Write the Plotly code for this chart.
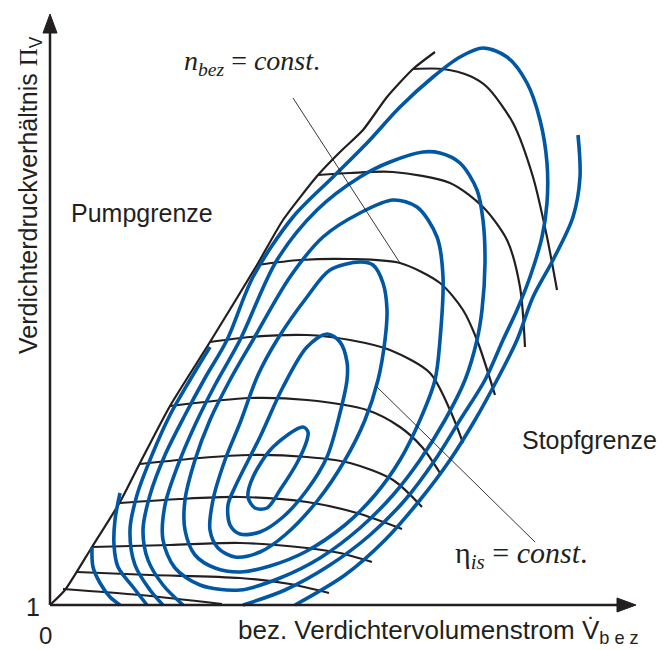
import plotly.graph_objects as go

# ---- data (pixel-space schematic coordinates) ----
surge_x = [50, 65, 92, 120, 140, 170, 210, 257, 283, 318, 340, 363, 387, 413, 435]
surge_y = [605, 590, 547, 502, 463, 406, 342, 265, 220, 175, 152, 130, 97, 69, 52]

speed_lines = {
    "S1": ([63, 140, 222], [589, 595, 604]),
    "S2": ([77, 150, 240, 290, 329], [572, 575, 578, 584, 593]),
    "S3": ([92, 170, 240, 307, 340, 372], [547, 545, 543, 548, 553, 562]),
    "S4": ([120, 180, 240, 307, 357, 402], [503, 499, 497, 502, 513, 529]),
    "S5": ([140, 200, 250, 307, 350, 393, 422], [464, 458, 455, 457, 463, 480, 507]),
    "S6": ([170, 250, 307, 367, 400, 422, 440], [406, 398, 400, 410, 427, 447, 473]),
    "S7": ([210, 250, 307, 350, 390, 430, 450, 463], [342, 337, 335, 340, 350, 373, 410, 443]),
    "S8": ([257, 300, 350, 400, 440, 463, 477, 495], [265, 260, 259, 263, 283, 310, 340, 395]),
    "S9": ([318, 350, 393, 450, 483, 507, 520, 525], [175, 173, 172, 183, 207, 240, 287, 347]),
    "S10": ([413, 443, 470, 487, 513, 533, 547, 557], [69, 69, 76, 87, 123, 177, 237, 290]),
}

eff_lines = {
    "E1": ([303, 308, 307, 297, 280, 267, 255, 248, 253, 273, 303],
           [427, 432, 440, 463, 490, 508, 508, 497, 477, 447, 427]),
    "E2": ([327, 340, 347, 347, 340, 327, 307, 283, 260, 240, 230, 228, 235, 260, 283, 307, 327],
           [334, 342, 362, 380, 413, 457, 490, 517, 532, 534, 525, 505, 487, 437, 387, 347, 334]),
    "E3": ([235, 218, 210, 213, 225, 240, 258, 277, 307, 330, 360, 373, 383, 387, 385, 378, 365, 345, 318, 285, 260, 235],
           [557, 548, 530, 500, 460, 423, 375, 340, 297, 270, 262, 265, 283, 310, 340, 380, 420, 460, 500, 535, 552, 557]),
    "E4": ([240, 215, 195, 185, 185, 195, 210, 230, 253, 290, 323, 360, 393, 417, 437, 443, 440, 435, 420, 400, 375, 345, 305, 270, 240],
           [572, 568, 555, 530, 500, 460, 420, 380, 340, 277, 237, 213, 200, 207, 237, 277, 340, 380, 420, 460, 495, 525, 552, 566, 572]),
    "E5": ([240, 200, 175, 163, 165, 178, 195, 215, 240, 277, 317, 360, 390, 423, 440, 460, 477, 483, 485, 482, 477, 465, 445, 420, 393, 360, 320, 280, 240],
           [590, 585, 568, 540, 505, 465, 425, 385, 340, 260, 210, 177, 162, 152, 153, 163, 190, 220, 263, 310, 340, 380, 420, 460, 495, 528, 558, 578, 590]),
    "E6": ([183, 163, 148, 143, 150, 165, 185, 205, 227, 253, 293, 333, 367, 400, 433, 460, 483, 507, 527, 540, 547, 547, 542, 530, 517, 503, 485, 460, 435, 405, 370, 330, 285, 243],
           [605, 585, 560, 530, 495, 455, 415, 378, 340, 277, 217, 177, 143, 107, 77, 57, 48, 57, 83, 120, 163, 203, 237, 277, 310, 340, 380, 420, 460, 500, 535, 565, 590, 605]),
    "E7": ([578, 580, 573, 553, 533, 517, 497, 475, 450, 420, 385, 345, 295],
           [135, 177, 217, 260, 297, 340, 380, 420, 460, 500, 540, 575, 605]),
    "C": ([210, 190, 170, 152, 137, 130, 135, 150, 163],
          [347, 380, 415, 455, 495, 530, 565, 590, 605]),
    "B": ([120, 115, 114, 118, 133, 147], [493, 520, 545, 567, 587, 605]),
    "A": ([92, 93, 100, 110, 120], [547, 567, 583, 597, 605]),
}

leader_n_x = [293, 400]
leader_n_y = [98, 263]
leader_eta_x = [377, 535]
leader_eta_y = [387, 542]

BLACK = "#231f20"
BLUE = "#0057a3"

fig = go.Figure()

fig.add_trace(go.Scatter(x=surge_x, y=surge_y, mode="lines",
                         line=dict(color=BLACK, width=2.2, shape="spline", smoothing=0.6),
                         hoverinfo="skip"))
for name, (xs, ys) in speed_lines.items():
    fig.add_trace(go.Scatter(x=xs, y=ys, mode="lines",
                             line=dict(color=BLACK, width=2.2, shape="spline", smoothing=0.8),
                             hoverinfo="skip"))
for name, (xs, ys) in eff_lines.items():
    fig.add_trace(go.Scatter(x=xs, y=ys, mode="lines",
                             line=dict(color=BLUE, width=3.6, shape="spline", smoothing=0.9),
                             hoverinfo="skip"))
fig.add_trace(go.Scatter(x=leader_n_x, y=leader_n_y, mode="lines",
                         line=dict(color=BLACK, width=0.9), hoverinfo="skip"))
fig.add_trace(go.Scatter(x=leader_eta_x, y=leader_eta_y, mode="lines",
                         line=dict(color=BLACK, width=0.9), hoverinfo="skip"))

# axes with arrows
shapes = [
    dict(type="line", xref="x", yref="y", x0=50, y0=605, x1=622, y1=605,
         line=dict(color=BLACK, width=2.5)),
    dict(type="line", xref="x", yref="y", x0=50, y0=605, x1=50, y1=28,
         line=dict(color=BLACK, width=2.5)),
    dict(type="path", xref="x", yref="y", path="M 636 605 L 617 598 L 617 612 Z",
         fillcolor=BLACK, line=dict(color=BLACK, width=1)),
    dict(type="path", xref="x", yref="y", path="M 50 14 L 43 33 L 57 33 Z",
         fillcolor=BLACK, line=dict(color=BLACK, width=1)),
]

SANS = "Liberation Sans, Arial, sans-serif"
SERIF = "Liberation Serif, Times New Roman, serif"
annotations = [
    dict(x=69, y=213, text="Pumpgrenze", xanchor="left", yanchor="middle",
         font=dict(family=SANS, size=25, color=BLACK)),
    dict(x=520, y=440, text="Stopfgrenze", xanchor="left", yanchor="middle",
         font=dict(family=SANS, size=25, color=BLACK)),
    dict(x=30, y=195, text="Verdichterdruckverhältnis <span style='font-family:Liberation Serif'>Π</span><sub>V</sub>",
         textangle=-90, xanchor="center", yanchor="middle",
         font=dict(family=SANS, size=25, color=BLACK)),
    dict(x=236, y=631, text="bez. Verdichtervolumenstrom V\u0307<sub>b e z</sub>",
         xanchor="left", yanchor="middle",
         font=dict(family=SANS, size=26, color=BLACK)),
    dict(x=33, y=607, text="1", xanchor="center", yanchor="middle",
         font=dict(family=SANS, size=25, color=BLACK)),
    dict(x=45, y=635, text="0", xanchor="center", yanchor="middle",
         font=dict(family=SANS, size=24, color=BLACK)),
    dict(x=182, y=62, text="<i>n</i><sub><i>bez</i></sub> = <i>const</i>.",
         xanchor="left", yanchor="middle",
         font=dict(family=SERIF, size=28, color=BLACK)),
    dict(x=453, y=555, text="η<sub><i>is</i></sub> = <i>const</i>.",
         xanchor="left", yanchor="middle",
         font=dict(family=SERIF, size=30, color=BLACK)),
]
for a in annotations:
    a.update(xref="x", yref="y", showarrow=False)

fig.update_layout(
    width=664, height=650,
    margin=dict(l=0, r=0, t=0, b=0),
    paper_bgcolor="white", plot_bgcolor="white",
    showlegend=False,
    xaxis=dict(range=[0, 664], visible=False, fixedrange=True),
    yaxis=dict(range=[650, 0], visible=False, fixedrange=True),
    shapes=shapes,
    annotations=annotations,
)

fig.write_html("out.html")
